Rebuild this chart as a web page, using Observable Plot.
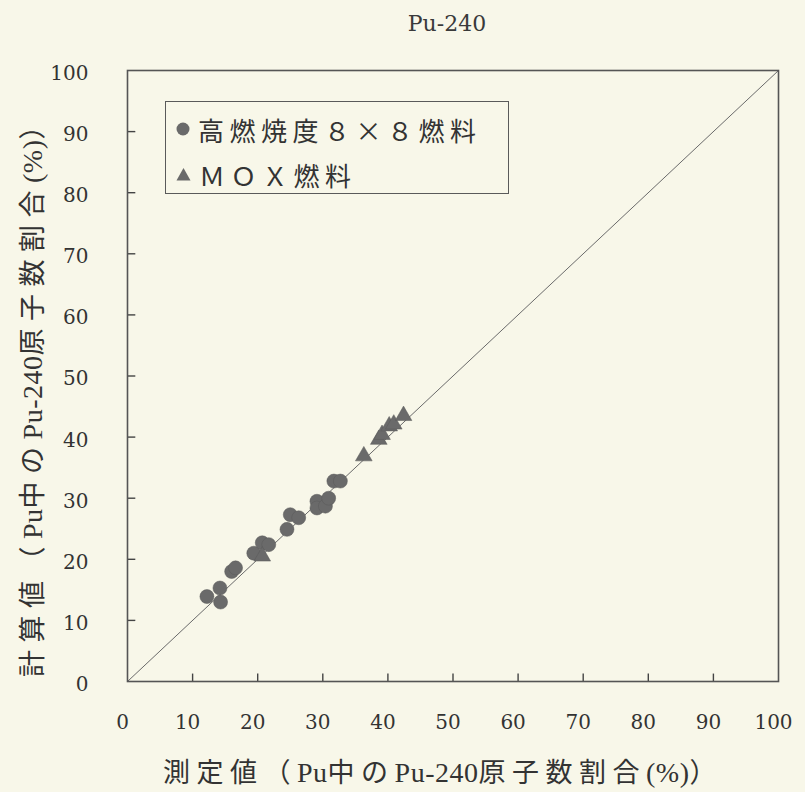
<!DOCTYPE html>
<html>
<head>
<meta charset="utf-8">
<script src="https://cdn.jsdelivr.net/npm/d3@7"></script>
<script src="https://cdn.jsdelivr.net/npm/@observablehq/plot@0.6"></script>
<style>
  html, body { margin: 0; padding: 0; background: #f8f7e9; }
  #wrap { position: relative; width: 805px; height: 792px; overflow: hidden; background: #f8f7e9; }
  #title { height: 50px; width: 894px; text-align: center; font-family: "DejaVu Serif", serif; font-size: 22px; line-height: 48px; color: #3a3a3a; }
  #xlabel { position: absolute; left: 0; width: 886px; top: 770px; transform: translateY(-50%); text-align: center; font-family: "Noto Sans CJK JP", sans-serif; font-size: 27px; color: #333; white-space: nowrap; }
  #ylabel { position: absolute; left: 30px; top: 391px; width: 700px; transform: translate(-50%, -50%) rotate(-90deg); text-align: center; font-family: "Noto Sans CJK JP", sans-serif; font-size: 27px; color: #333; white-space: nowrap; }
  .cj { letter-spacing: 6.5px; }
  .la { font-family: "Liberation Serif", serif; font-size: 28px; letter-spacing: 0.5px; }
  #ylabel .cj { letter-spacing: 7.5px; }
  #legend { position: absolute; left: 165px; top: 101px; width: 344px; height: 93px; border: 1.5px solid #5a5a5a; box-sizing: border-box; font-family: "Noto Sans CJK JP", sans-serif; font-size: 26px; color: #333; }
  .lrow { position: absolute; left: 10px; height: 30px; display: flex; align-items: center; white-space: nowrap; letter-spacing: 5.5px; }
  .lrow svg { margin-right: 8px; }
</style>
</head>
<body>
<div id="wrap">
  <div id="title"></div>
  <div id="chart"></div>
  <div id="legend"></div>
  <div id="xlabel"></div>
  <div id="ylabel"></div>
</div>
<script>
// ---- data ----
const titleText = "Pu-240";
const xLabelText = "測定値（Pu中のPu-240原子数割合(%)）";
const yLabelText = "計算値（Pu中のPu-240原子数割合(%)）";
const seriesNames = ["高燃焼度８×８燃料", "ＭＯＸ燃料"];
const tickValues = [0, 10, 20, 30, 40, 50, 60, 70, 80, 90, 100];
const diagonal = [0, 100];

// 高燃焼度8×8燃料 (circles)
const highBurnupX = [12.2, 14.2, 14.3, 16.0, 16.6, 19.4, 20.7, 21.7, 24.5, 25.0, 26.3, 29.1, 29.1, 30.4, 30.9, 31.7, 32.7];
const highBurnupY = [13.9, 15.3, 13.0, 18.0, 18.6, 21.0, 22.7, 22.4, 24.9, 27.3, 26.8, 29.5, 28.4, 28.7, 30.0, 32.8, 32.8];
// MOX燃料 (triangles)
const moxX = [20.7, 36.3, 38.6, 39.1, 40.2, 40.9, 42.4];
const moxY = [20.5, 36.9, 39.6, 40.4, 41.8, 42.1, 43.5];

const highBurnup = highBurnupX.map((x, i) => ({x, y: highBurnupY[i]}));
const mox = moxX.map((x, i) => ({x, y: moxY[i]}));

const markerColor = "#6a6a6a";
const textColor = "#333";

// split label into CJK runs and Latin runs so each gets its own look
function setMixedText(el, text) {
  const runs = text.match(/[\x20-\x7E]+|[^\x20-\x7E]+/g) || [];
  runs.forEach(run => {
    const s = document.createElement("span");
    s.className = /[\x20-\x7E]/.test(run[0]) ? "la" : "cj";
    s.textContent = run;
    el.appendChild(s);
  });
}
document.getElementById("title").textContent = titleText;
setMixedText(document.getElementById("xlabel"), xLabelText);
setMixedText(document.getElementById("ylabel"), yLabelText);

// inner tick marks (short, pointing into the plot); length given in data units
const innerTicks = tickValues.slice(1, -1).map(v => ({v, a: 0, bx: 1.2, by: 1.3}));

const chart = Plot.plot({
  width: 805,
  height: 742,
  marginTop: 20,
  marginBottom: 111,
  marginLeft: 127,
  marginRight: 27,
  style: { background: "transparent", color: textColor, fontFamily: "DejaVu Serif, serif" },
  x: { domain: [0, 100], ticks: tickValues },
  y: { domain: [0, 100], ticks: tickValues },
  marks: [
    Plot.line(diagonal, { x: d => d, y: d => d, stroke: "#6a6a6a", strokeWidth: 1 }),
    Plot.link(innerTicks, { x1: "v", x2: "v", y1: "a", y2: "by", stroke: "#444", strokeWidth: 1.4 }),
    Plot.link(innerTicks, { y1: "v", y2: "v", x1: "a", x2: "bx", stroke: "#444", strokeWidth: 1.4 }),
    Plot.frame({ stroke: "#555", strokeWidth: 1.6 }),
    Plot.axisX(tickValues, { anchor: "bottom", tickSize: 0, tickPadding: 33, fontSize: 20, dx: -5, label: null, fill: textColor }),
    Plot.axisY(tickValues, { anchor: "left", tickSize: 0, tickPadding: 39, fontSize: 20, dy: 3, label: null, fill: textColor }),
    Plot.dot(highBurnup, { x: "x", y: "y", r: 7, fill: markerColor, stroke: "#5a5a5a", strokeWidth: 0.5, symbol: "circle" }),
    Plot.dot(mox, { x: "x", y: "y", r: 6.2, fill: markerColor, stroke: "#5a5a5a", strokeWidth: 0.5, symbol: "triangle" })
  ]
});
document.getElementById("chart").appendChild(chart);

// legend
const legend = document.getElementById("legend");
const rows = [
  { name: seriesNames[0], top: 12, icon: `<svg width="14" height="14"><circle cx="7" cy="7" r="6.5" fill="${markerColor}"/></svg>` },
  { name: seriesNames[1], top: 57, icon: `<svg width="15" height="14"><path d="M7.5,1 L14.5,13.5 L0.5,13.5 Z" fill="${markerColor}"/></svg>` }
];
rows.forEach(r => {
  const d = document.createElement("div");
  d.className = "lrow";
  d.style.top = r.top + "px";
  d.innerHTML = r.icon + `<span>${r.name}</span>`;
  legend.appendChild(d);
});
</script>
</body>
</html>
